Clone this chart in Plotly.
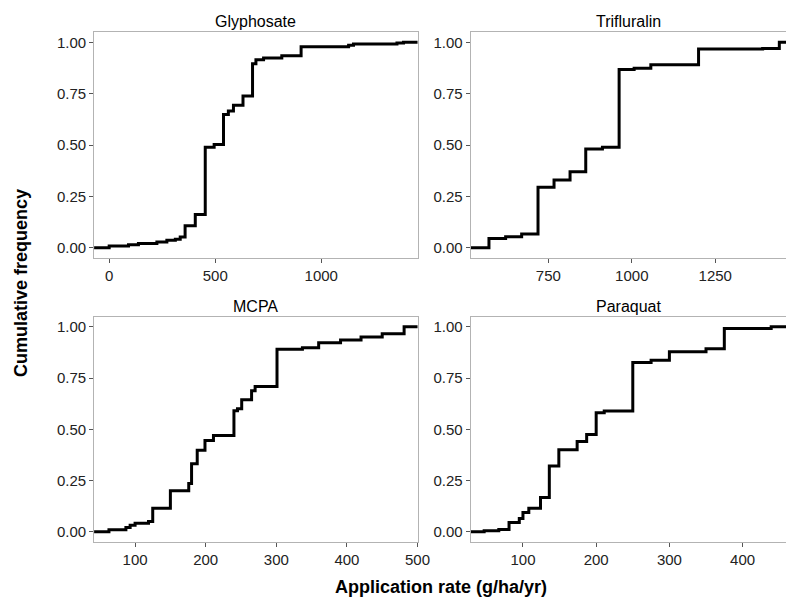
import plotly.graph_objects as go

# Data: ECDF step positions (application rate) and cumulative frequency after each step
gly_x = [0, 91, 138, 225, 272, 312, 335, 358, 406, 453, 495, 539, 562, 586, 631, 676, 692, 728, 814, 905, 1129, 1152, 1357, 1388]
gly_y = [0.008, 0.015, 0.021, 0.028, 0.036, 0.041, 0.052, 0.107, 0.162, 0.489, 0.502, 0.648, 0.665, 0.693, 0.738, 0.895, 0.915, 0.924, 0.935, 0.978, 0.985, 0.992, 0.997, 1.0]

tri_x = [572, 622, 670, 719, 767, 815, 862, 912, 962, 1007, 1057, 1200, 1392, 1442]
tri_y = [0.045, 0.054, 0.067, 0.294, 0.33, 0.37, 0.48, 0.489, 0.867, 0.873, 0.89, 0.967, 0.97, 1.0]

mcpa_x = [63, 87, 93, 100, 119, 125, 150, 176, 180, 188, 199, 211, 240, 245, 251, 265, 270, 301, 337, 360, 391, 420, 450, 481]
mcpa_y = [0.01, 0.021, 0.032, 0.042, 0.05, 0.115, 0.2, 0.235, 0.332, 0.398, 0.445, 0.469, 0.59, 0.6, 0.644, 0.688, 0.709, 0.89, 0.898, 0.922, 0.935, 0.95, 0.966, 1.0]

para_x = [47, 67, 81, 95, 100, 108, 124, 136, 149, 174, 187, 200, 211, 250, 275, 300, 350, 375, 439]
para_y = [0.005, 0.011, 0.045, 0.065, 0.094, 0.115, 0.167, 0.321, 0.4, 0.44, 0.474, 0.581, 0.589, 0.826, 0.836, 0.878, 0.893, 0.992, 1.0]

titles = ["Glyphosate", "Trifluralin", "MCPA", "Paraquat"]
xs = [gly_x, tri_x, mcpa_x, para_x]
ys = [gly_y, tri_y, mcpa_y, para_y]
xranges = [[-71, 1454], [517, 1465], [42, 500], [28.5, 460.6]]
xticks = [[0, 500, 1000], [750, 1000, 1250], [100, 200, 300, 400, 500], [100, 200, 300, 400]]
yticks = [0, 0.25, 0.5, 0.75, 1.0]

# reference picture size (layout fractions are computed from it)
RW, RH = 786, 599
# the captured page is squeezed horizontally to 786 px, so draw a slightly wider figure
W, H = 800, 599


def fx(p):
    return p / RW


def fy(p):
    return 1 - p / RH


xdoms = [[fx(94), fx(417)], [fx(470), 1.0]]
ydoms = [[fy(258), fy(32)], [fy(542), fy(316.5)]]
title_y = [22, 306]

fig = go.Figure()
FONT = "Liberation Sans, Arial, sans-serif"
for i in range(4):
    r, c = divmod(i, 2)
    n = i + 1
    xa = "x" if n == 1 else f"x{n}"
    ya = "y" if n == 1 else f"y{n}"
    big = 1e6
    px = [-big] + xs[i] + [big]
    py = [0] + ys[i] + [1.0]
    fig.add_trace(go.Scatter(x=px, y=py, mode="lines", line=dict(color="black", width=3, shape="hv"),
                             xaxis=xa, yaxis=ya, showlegend=False, hoverinfo="skip"))
    axcommon = dict(showgrid=False, zeroline=False, showline=True, mirror=True, linecolor="#b3b3b3",
                    linewidth=1, ticks="outside", ticklen=4, tickcolor="#555", tickwidth=1,
                    tickfont=dict(family=FONT, size=15, color="#222"))
    fig.update_layout({
        ("xaxis" if n == 1 else f"xaxis{n}"): dict(domain=xdoms[c], anchor=ya, range=xranges[i],
                                                     tickvals=xticks[i], **axcommon),
        ("yaxis" if n == 1 else f"yaxis{n}"): dict(domain=ydoms[r], anchor=xa, range=[-0.05, 1.05],
                                                     tickvals=yticks, tickformat=".2f", **axcommon),
    })
    fig.add_annotation(text=titles[i], x=(xdoms[c][0] + xdoms[c][1]) / 2, y=fy(title_y[r]),
                       xref="paper", yref="paper", xanchor="center", yanchor="middle", showarrow=False,
                       font=dict(family=FONT, size=16, color="black"))

fig.add_annotation(text="<b>Cumulative frequency</b>", x=fx(21), y=fy(283), xref="paper", yref="paper",
                   xanchor="center", yanchor="middle",
                   textangle=-90, showarrow=False, font=dict(family=FONT, size=18, color="black"))
fig.add_annotation(text="<b>Application rate (g/ha/yr)</b>", x=fx(440), y=fy(587), xref="paper",
                   yref="paper", xanchor="center", yanchor="middle", showarrow=False,
                   font=dict(family=FONT, size=18, color="black"))

fig.update_layout(width=W, height=H, margin=dict(l=0, r=0, t=0, b=0),
                  paper_bgcolor="white", plot_bgcolor="white")
fig.write_html("out.html", config={"displayModeBar": False},
               post_script="document.body.style.margin='0px';document.body.style.overflow='hidden';")
